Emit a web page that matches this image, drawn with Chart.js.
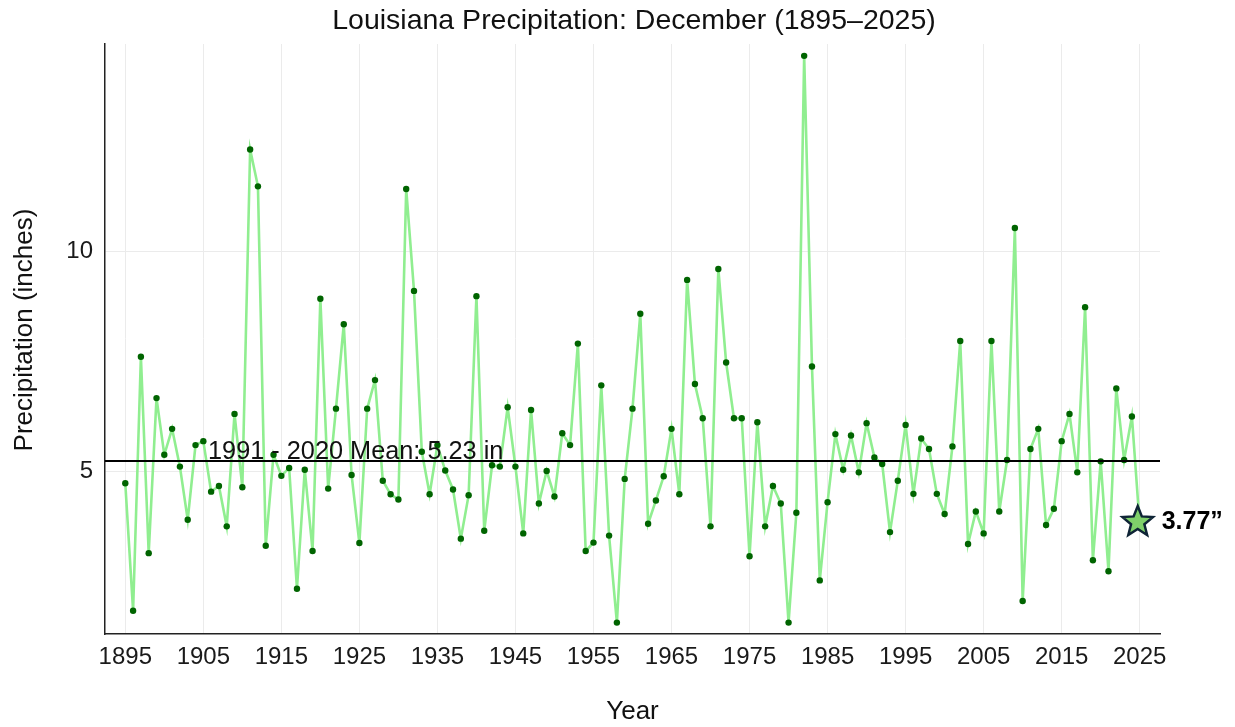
<!DOCTYPE html>
<html>
<head>
<meta charset="utf-8">
<script src="https://cdn.jsdelivr.net/npm/chart.js@4/dist/chart.umd.min.js"></script>
<style>
  html, body { margin: 0; padding: 0; background: #fff; }
  canvas { display: block; }
</style>
</head>
<body>
<canvas id="chart" width="1235" height="727"></canvas>
<script>
// December precipitation, Louisiana, inches (1895 .. 2025)
const firstYear = 1895;
const precip = [
	4.72, 1.82, 7.60, 3.13, 6.66, 5.37, 5.96, 5.10, 3.89, 5.59,
	5.68, 4.53, 4.66, 3.74, 6.30, 4.63, 12.32, 11.48, 3.30, 5.37,
	4.89, 5.07, 2.32, 5.03, 3.18, 8.92, 4.60, 6.42, 8.34, 4.91,
	3.36, 6.42, 7.07, 4.78, 4.47, 4.35, 11.42, 9.10, 5.44, 4.47,
	5.59, 5.01, 4.58, 3.46, 4.45, 8.98, 3.64, 5.13, 5.10, 6.45,
	5.10, 3.58, 6.39, 4.26, 5.00, 4.42, 5.86, 5.59, 7.90, 3.18,
	3.37, 6.95, 3.53, 1.55, 4.82, 6.42, 8.58, 3.80, 4.33, 4.88,
	5.96, 4.47, 9.35, 6.98, 6.20, 3.74, 9.60, 7.47, 6.20, 6.20,
	3.06, 6.11, 3.74, 4.66, 4.26, 1.55, 4.05, 14.45, 7.38, 2.51,
	4.29, 5.84, 5.03, 5.81, 4.97, 6.09, 5.31, 5.16, 3.61, 4.78,
	6.05, 4.48, 5.74, 5.50, 4.48, 4.02, 5.56, 7.96, 3.34, 4.08,
	3.58, 7.96, 4.08, 5.25, 10.53, 2.04, 5.50, 5.96, 3.77, 4.14,
	5.68, 6.30, 4.97, 8.73, 2.97, 5.22, 2.72, 6.88, 5.25, 6.24,
	3.77
];
const years = precip.map((v, i) => firstYear + i);

const xTicks = [1895, 1905, 1915, 1925, 1935, 1945, 1955, 1965, 1975, 1985, 1995, 2005, 2015, 2025];
const yTicks = [5, 10];

const normalMean = 5.23;
const meanLabel = '1991 - 2020 Mean: 5.23 in';
const latestYear = years[years.length - 1];
const latestValue = precip[precip.length - 1];
const latestLabel = latestValue.toFixed(2) + '\u201D';

const xMin = 1892.4, xMax = 2027.6;
const yMin = 1.29, yMax = 14.72;

const FONT = '"Liberation Sans", Arial, sans-serif';

function drawStar(ctx, cx, cy, rOut, rIn) {
	ctx.beginPath();
	for (let i = 0; i < 10; i++) {
		const r = i % 2 === 0 ? rOut : rIn;
		const a = -Math.PI / 2 + i * Math.PI / 5;
		const px = cx + r * Math.cos(a), py = cy + r * Math.sin(a);
		if (i === 0) ctx.moveTo(px, py); else ctx.lineTo(px, py);
	}
	ctx.closePath();
}

const decorations = {
	id: 'decorations',
	beforeDraw(chart) {
		const ctx = chart.ctx;
		ctx.save();
		ctx.fillStyle = '#fff';
		ctx.fillRect(0, 0, chart.width, chart.height);
		ctx.restore();
	},
	afterDraw(chart) {
		const ctx = chart.ctx;
		const { x, y } = chart.scales;
		const area = chart.chartArea;
		ctx.save();

		// title
		ctx.fillStyle = '#111';
		ctx.font = '28.5px ' + FONT;
		ctx.textAlign = 'center';
		ctx.textBaseline = 'middle';
		ctx.fillText('Louisiana Precipitation: December (1895\u20132025)', 634, 21);

		// axis titles
		ctx.font = '26px ' + FONT;
		ctx.fillText('Year', (area.left + area.right) / 2, 712);
		ctx.save();
		ctx.translate(25, 330);
		ctx.rotate(-Math.PI / 2);
		ctx.fillText('Precipitation (inches)', 0, 0);
		ctx.restore();

		// mean label
		ctx.font = '25.3px ' + FONT;
		ctx.textAlign = 'left';
		ctx.textBaseline = 'alphabetic';
		ctx.fillStyle = '#111';
		ctx.fillText(meanLabel, x.getPixelForValue(1905.6), y.getPixelForValue(normalMean) - 2);

		// latest month star
		const sx = x.getPixelForValue(latestYear) - 2;
		const sy = y.getPixelForValue(latestValue) - 3;
		drawStar(ctx, sx, sy, 16, 7);
		ctx.fillStyle = '#7fd06a';
		ctx.fill();
		ctx.lineWidth = 2.5;
		ctx.strokeStyle = '#0f2436';
		ctx.lineJoin = 'miter';
		ctx.stroke();

		ctx.font = 'bold 25px ' + FONT;
		ctx.fillStyle = '#000';
		ctx.textBaseline = 'middle';
		ctx.fillText(latestLabel, sx + 24, sy);
		ctx.restore();
	}
};

const ctx = document.getElementById('chart').getContext('2d');
new Chart(ctx, {
	type: 'line',
	data: {
		datasets: [
			{
				data: [ { x: xMin, y: normalMean }, { x: xMax, y: normalMean } ],
				borderColor: '#000',
				borderWidth: 2,
				pointRadius: 0,
				order: 0
			},
			{
				data: years.map((yr, i) => ({ x: yr, y: precip[i] })),
				borderColor: '#90ee90',
				borderWidth: 2.6,
				pointBackgroundColor: '#006400',
				pointBorderColor: '#006400',
				pointBorderWidth: 0,
				pointRadius: c => (c.dataIndex === precip.length - 1 ? 0 : 3.2),
				tension: 0,
				order: 1
			}
		]
	},
	options: {
		responsive: false,
		animation: false,
		devicePixelRatio: 1,
		layout: { padding: { top: 44, right: 75, left: 0, bottom: 0 } },
		plugins: {
			legend: { display: false },
			tooltip: { enabled: false },
			title: { display: false }
		},
		scales: {
			x: {
				type: 'linear',
				min: xMin,
				max: xMax,
				afterBuildTicks: s => { s.ticks = xTicks.map(v => ({ value: v })); },
				afterFit: s => { s.height = 93; },
				ticks: {
					autoSkip: false,
					maxRotation: 0,
					padding: 9,
					color: '#1a1a1a',
					font: { family: FONT, size: 24 },
					callback: v => String(v)
				},
				grid: { color: '#ebebeb', lineWidth: 1, drawTicks: false },
				border: { display: true, color: '#222', width: 1.5 }
			},
			y: {
				min: yMin,
				max: yMax,
				afterBuildTicks: s => { s.ticks = yTicks.map(v => ({ value: v })); },
				afterFit: s => { s.width = 105; },
				ticks: {
					padding: 12,
					color: '#1a1a1a',
					font: { family: FONT, size: 24 },
					callback: v => String(v)
				},
				grid: { color: '#ebebeb', lineWidth: 1, drawTicks: false },
				border: { display: true, color: '#222', width: 1.5 }
			}
		}
	},
	plugins: [ decorations ]
});
</script>
</body>
</html>
